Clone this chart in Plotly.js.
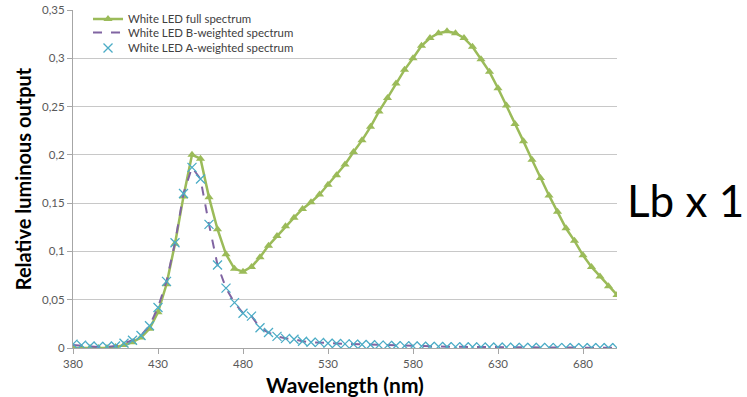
<!DOCTYPE html>
<html>
<head>
<meta charset="utf-8">
<script src="https://cdn.plot.ly/plotly-3.0.1.min.js"></script>
<style>
  html, body { margin: 0; padding: 0; background: #ffffff; }
  #chart { width: 747px; height: 397px; }
</style>
</head>
<body>
<div id="chart"></div>
<script>
// Wavelength categories (nm)
const wavelength = [380,385,390,395,400,405,410,415,420,425,430,435,440,445,450,455,460,465,470,475,480,485,490,495,500,505,510,515,520,525,530,535,540,545,550,555,560,565,570,575,580,585,590,595,600,605,610,615,620,625,630,635,640,645,650,655,660,665,670,675,680,685,690,695,700];

// White LED full spectrum
const fullSpectrum = [0.000,0.000,0.000,0.000,0.000,0.001,0.003,0.006,0.011,0.020,0.037,0.066,0.108,0.157,0.200,0.196,0.156,0.123,0.097,0.082,0.079,0.084,0.094,0.106,0.116,0.126,0.135,0.144,0.151,0.159,0.169,0.179,0.190,0.203,0.215,0.229,0.245,0.259,0.274,0.288,0.300,0.313,0.321,0.326,0.328,0.326,0.321,0.312,0.299,0.286,0.269,0.251,0.232,0.214,0.195,0.176,0.158,0.141,0.124,0.111,0.096,0.084,0.074,0.064,0.055];

// White LED B-weighted spectrum
const bWeighted = [0.003,0.002,0.0015,0.001,0.001,0.002,0.005,0.008,0.013,0.023,0.042,0.069,0.109,0.160,0.187,0.175,0.128,0.086,0.062,0.047,0.036,0.033,0.021,0.016,0.012,0.010,0.009,0.007,0.006,0.0058,0.005,0.0047,0.0043,0.004,0.0036,0.0033,0.003,0.0027,0.0024,0.0022,0.002,0.0018,0.0016,0.0015,0.0013,0.0012,0.0011,0.001,0.0009,0.0008,0.0008,0.0007,0.0006,0.0006,0.0005,0.0005,0.0004,0.0004,0.0004,0.0003,0.0003,0.0003,0.0003,0.0002,0.0002];

// White LED A-weighted spectrum
const aWeighted = [0.004,0.003,0.002,0.0015,0.0015,0.002,0.005,0.008,0.013,0.023,0.042,0.069,0.109,0.160,0.187,0.175,0.128,0.086,0.062,0.047,0.036,0.033,0.021,0.016,0.012,0.010,0.009,0.007,0.006,0.0058,0.005,0.0047,0.0043,0.004,0.0036,0.0033,0.003,0.0027,0.0024,0.0022,0.002,0.0018,0.0016,0.0015,0.0013,0.0012,0.0011,0.001,0.0009,0.0008,0.0008,0.0007,0.0006,0.0006,0.0005,0.0005,0.0004,0.0004,0.0004,0.0003,0.0003,0.0003,0.0003,0.0002,0.0002];

// Tick labels
const xTickVals = [380,430,480,530,580,630,680];
const xTickText = ['380','430','480','530','580','630','680'];
const yTickVals = [0,0.05,0.1,0.15,0.2,0.25,0.3,0.35];
const yTickText = ['0','0,05','0,1','0,15','0,2','0,25','0,3','0,35'];

const FONT = 'Lato, "Open Sans", sans-serif';

const traces = [
  {
    x: wavelength, y: fullSpectrum, name: 'White LED full spectrum',
    type: 'scatter', mode: 'lines+markers', legend: 'legend',
    line: { color: '#9bbb59', width: 2.5 },
    marker: { symbol: 'triangle-up', size: 8, color: '#9bbb59' }
  },
  {
    x: wavelength, y: bWeighted, name: 'White LED B-weighted spectrum',
    type: 'scatter', mode: 'lines', legend: 'legend2',
    line: { color: '#8064a2', width: 2, dash: 'dash' }
  },
  {
    x: wavelength, y: aWeighted, name: 'White LED A-weighted spectrum',
    type: 'scatter', mode: 'markers', legend: 'legend3',
    marker: { symbol: 'x-thin-open', size: 9, color: '#4bacc6', line: { color: '#4bacc6', width: 1.3 } }
  }
];

function legendAt(yFrac) {
  return {
    x: 0.0276, y: yFrac, xanchor: 'left', yanchor: 'middle',
    bgcolor: 'rgba(255,255,255,0)', borderwidth: 0,
    font: { family: FONT, size: 11.4, color: '#404040' },
    itemwidth: 30
  };
}

const layout = {
  width: 747, height: 397,
  margin: { l: 73, r: 130, t: 10, b: 49, pad: 0, autoexpand: false },
  paper_bgcolor: '#ffffff', plot_bgcolor: '#ffffff',
  showlegend: true,
  legend: legendAt(0.9734),
  legend2: legendAt(0.9331),
  legend3: legendAt(0.8876),
  xaxis: {
    range: [380, 700], tickvals: xTickVals, ticktext: xTickText,
    showgrid: false, zeroline: false,
    showline: true, linecolor: '#a6a6a6', linewidth: 1,
    ticks: 'outside', ticklen: 5, tickcolor: '#a6a6a6',
    tickfont: { family: FONT, size: 11.5, color: '#595959' },
    title: { text: 'Wavelength (nm)', font: { family: FONT, size: 21, color: '#000000', weight: 'bold' }, standoff: 9 }
  },
  yaxis: {
    range: [0, 0.35], tickvals: yTickVals, ticktext: yTickText,
    showgrid: true, gridcolor: '#c8c8c8', gridwidth: 1, zeroline: false,
    showline: true, linecolor: '#a6a6a6', linewidth: 1,
    ticks: 'outside', ticklen: 5, tickcolor: '#a6a6a6',
    tickfont: { family: FONT, size: 11.5, color: '#595959' },
    title: { text: 'Relative luminous output', font: { family: FONT, size: 20, color: '#000000', weight: 'bold' }, standoff: 5 }
  },
  annotations: [
    {
      text: 'Lb x 1', xref: 'paper', yref: 'paper',
      x: 1.0147, y: 0.438, xanchor: 'left', yanchor: 'middle',
      showarrow: false, font: { family: FONT, size: 44, color: '#000000' }
    }
  ]
};

Plotly.newPlot('chart', traces, layout, { displayModeBar: false, staticPlot: true });
</script>
</body>
</html>
